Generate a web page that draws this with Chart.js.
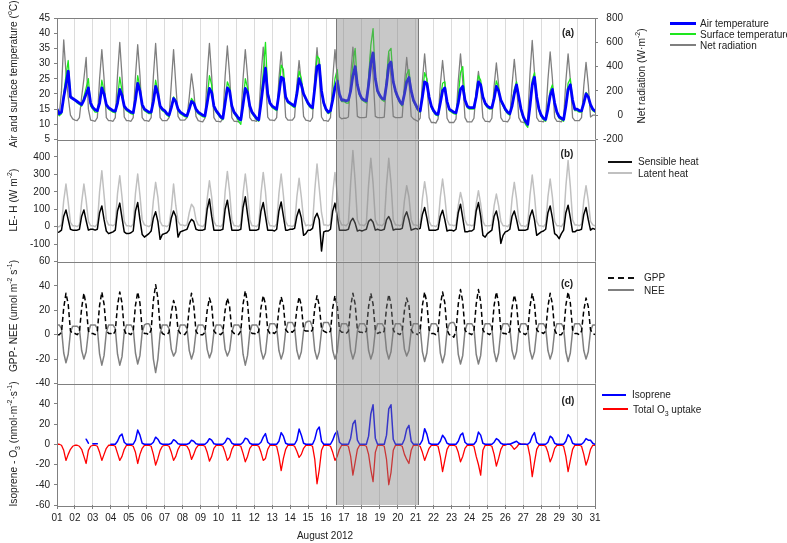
<!DOCTYPE html>
<html><head><meta charset="utf-8">
<script src="https://cdn.jsdelivr.net/npm/chart.js@4.4.1/dist/chart.umd.min.js"></script>
<style>
body{margin:0;background:#fff;}
#wrap{position:relative;width:787px;height:543px;overflow:hidden;font-family:'Liberation Sans',Arial,sans-serif;color:#222;}
canvas{position:absolute;left:0;}
.t{position:absolute;white-space:nowrap;font-size:10px;line-height:10px;transform:translateY(-50%);}
.rot{position:absolute;white-space:nowrap;font-size:10.2px;line-height:11px;transform:translate(-50%,-50%) rotate(-90deg);}
.lab{position:absolute;font-weight:bold;font-size:10px;transform:translate(-50%,-50%);}
.ln{position:absolute;}
sup,sub{font-size:7px;line-height:0;}
</style></head><body>
<div id="wrap">
<canvas id="ca"></canvas><canvas id="cb"></canvas><canvas id="cc"></canvas><canvas id="cd"></canvas>

<div class="rot" style="left:13px;top:74px">Air and surface temperature (<sup>o</sup>C)</div>
<div class="rot" style="left:641px;top:76px">Net radiation (W·m<sup>-2</sup>)</div>
<div class="rot" style="left:13px;top:200px">LE- H (W m<sup>-2</sup>)</div>
<div class="rot" style="left:13px;top:316px">GPP- NEE (umol m<sup>-2</sup> s<sup>-1</sup>)</div>
<div class="rot" style="left:13px;top:444px">Isoprene - O<sub>3</sub> (nmol·m<sup>-2</sup>·s<sup>-1</sup>)</div>

<div class="lab" style="left:568px;top:32px">(a)</div>
<div class="lab" style="left:567px;top:153px">(b)</div>
<div class="lab" style="left:567px;top:283px">(c)</div>
<div class="lab" style="left:568px;top:400px">(d)</div>

<div class="ln" style="left:670px;top:22px;width:26px;height:3px;background:#0000ff"></div>
<div class="t" style="left:700px;top:24px">Air temperature</div>
<div class="ln" style="left:670px;top:33px;width:26px;height:2px;background:#1ee61e"></div>
<div class="t" style="left:700px;top:34.5px">Surface temperature</div>
<div class="ln" style="left:670px;top:44px;width:26px;height:2px;background:#7f7f7f"></div>
<div class="t" style="left:700px;top:45.5px">Net radiation</div>

<div class="ln" style="left:608px;top:161px;width:24px;height:2px;background:#111"></div>
<div class="t" style="left:638px;top:162px">Sensible heat</div>
<div class="ln" style="left:608px;top:172px;width:24px;height:2px;background:#c0c0c0"></div>
<div class="t" style="left:638px;top:173.5px">Latent heat</div>

<div class="ln" style="left:608px;top:277px;width:26px;height:0;border-top:2px dashed #111"></div>
<div class="t" style="left:644px;top:278px">GPP</div>
<div class="ln" style="left:608px;top:289px;width:26px;height:2px;background:#808080"></div>
<div class="t" style="left:644px;top:290.5px">NEE</div>

<div class="ln" style="left:602px;top:394px;width:24px;height:2px;background:#0000ff"></div>
<div class="t" style="left:632px;top:395px">Isoprene</div>
<div class="ln" style="left:603px;top:408px;width:25px;height:2px;background:#ff0000"></div>
<div class="t" style="left:633px;top:409.5px">Total O<sub>3</sub> uptake</div>

<div class="t" style="left:325px;top:536px;transform:translate(-50%,-50%)">August 2012</div>
</div>
<script>
// ---- time grid: 8 samples per day (00,03,...,21 h), 1 Aug 00:00 to 31 Aug 00:00 ----
const samplesPerDay = 8;
const dayTicks = [1,31];                 // first and last day on the axis
const highlightDays = [16.58, 21.15];    // shaded period

// ---- panel (a) ----
const airTemp = [
15,13.5,14,19,23,27.5,19,18.5,
18,17.5,17,16.5,18,20,22,17,
15.5,14.8,14.5,17,22,20,16.5,15.5,
15,14.5,14.3,17,21.5,19.5,16,15,
14.5,14,13.8,18,23.5,21,16.5,15,
14.5,14,14,17.5,22.5,20,16,15,
14.5,13.5,13,15.5,18.5,17.5,15,14,
13.5,13,12.8,15,17.5,17,15,14,
13.5,13,12.8,17,21.8,20.5,16,14.5,
13.5,12.5,12,17,22,21,16,14,
13,12,11.5,16.5,21.8,20.5,16,14,
13,12,11.5,17,23,28.5,20,17,
16,15.5,15,20,25.5,25,19,17.5,
17,16.5,16,20,25,23,20,18.5,
17,16,15.5,22,29,29.5,21,17,
15,14,14.5,18,22,24.3,20,18,
18,17.7,18,21,26,29,23,20,
18.5,18,17.7,23,30,33.5,25,21,
19.5,18.5,18.3,23,29.5,30.5,24,21,
19,17.5,16.6,20,24,25.4,21,18,
16.5,15,14.4,19,24,23.5,19,16,
14.5,13.5,13.3,17,21,22,17.5,15,
14.5,14,13.8,17,21.5,22.5,18,16,
15.5,15.5,15.5,19,24,23,19,17,
16,15.5,15.5,18.5,22.5,21,18,16.5,
15,14,13.5,16,20,23,19,15,
12.5,11,10,16,23,25.5,19,15,
13,12,11.6,15,19.5,21.5,17,14,
12.5,12,11.6,16,21.5,23,18,15,
15,14.5,14.4,17,20,19,16.5,15,
14.4];
const surfTemp = [
14.5,12.8,13.5,20,26,31,19.5,18.5,
18,17,16.5,16,19,22,25,16,
15,14,14,18,24.5,21,16,15,
14.5,14,13.8,18.5,25.5,21,15.5,14.5,
14,13.5,13.3,19,26,22,16,14.5,
14,13.5,13.5,18.5,24.5,21,15.5,14.5,
14,13,12.5,16,19,18,14.5,13.5,
13,12.5,12.3,15.5,18.5,17.5,14.5,13.5,
13,12.5,12.3,18.5,26,23,15.5,14,
13,12,11.5,18,24,22,15.5,13.5,
12.5,11,10,17,25,22,15.5,13.5,
12.5,11.5,11,18.5,27,37,21,17,
15.5,15,14.5,21,29.5,28,19,17,
16.5,16,15.5,21,27.5,25,20,18,
16.5,15.5,15,23,32.5,31.5,21,16.5,
14.5,13.5,14,19.5,25,28,20,17.5,
17.5,17,17,22,30,35,23,19.5,
18,17.5,17,25,36,41.5,25,20.5,
19,18,17.5,25,34,35,24,20.5,
18.5,17,16,21,26.5,28,21,17.5,
16,14.5,14,20,27,25,18.5,15.5,
14,13,12.8,18,23.5,24,17,14.5,
14,13.5,13.3,19,27,29,18,15.5,
15,15,15,20,26,24.5,19,16.5,
15.5,15,15,19.5,24.3,22,17.5,16,
14.5,13.5,13,17,21.5,24,19,14.5,
12,10,9,17,24.5,27,19,14.5,
12.5,11.5,11,16,21,23,17,13.5,
12,11.5,11,17,23.5,25,18,14.5,
14.5,14,14,17.5,20.5,19.5,16,14.5,
14];
const netRad = [
20,0,200,620,350,150,0,-30,
-40,-45,-20,150,300,475,50,-40,
-45,-50,-20,300,540,300,-20,-45,
-45,-50,-20,330,600,320,-15,-45,
-45,-50,-20,320,580,330,-20,-45,
-45,-50,-20,320,590,300,-20,-45,
-45,-45,-20,260,540,250,-10,-40,
-40,-40,-20,150,340,200,-10,-45,
-50,-55,-25,330,590,320,-20,-50,
-50,-55,-25,320,570,330,-20,-50,
-50,-55,-25,300,540,320,-20,-45,
-45,-50,-20,320,560,330,-15,-40,
-40,-45,-20,300,520,300,-15,-40,
-40,-40,-15,250,450,260,-10,-40,
-45,-50,-20,320,555,330,-15,-45,
-45,-50,-20,300,540,320,-15,-30,
-25,-25,-15,320,560,320,-10,-20,
-20,-20,-15,300,530,330,-10,-20,
-20,-20,-15,290,510,300,-10,-20,
-20,-20,-15,260,475,280,-10,-30,
-40,-50,-25,280,505,280,-20,-60,
-60,-65,-30,250,450,260,-25,-60,
-60,-60,-30,280,505,280,-20,-55,
-55,-55,-25,200,360,220,-20,-50,
-50,-55,-25,240,430,250,-20,-50,
-50,-55,-25,250,460,260,-20,-55,
-60,-60,-30,340,615,350,-20,-50,
-50,-55,-25,290,520,300,-20,-50,
-50,-55,-25,280,505,290,-20,-45,
-45,-45,-20,240,435,250,-15,0,
0];

// ---- panel (b) ----
const sensibleHeat = [
-35,-30,-20,60,96,40,-15,-20,
-20,-20,-15,60,96,35,-20,-15,
-15,-20,-15,80,119,40,-25,-40,
-35,-30,-20,90,135,50,-30,-40,
-40,-35,-25,90,138,40,-45,-60,
-50,-40,-25,50,85,30,-73,-45,
-40,-35,-20,50,90,60,-60,-30,
-25,-20,-15,20,42,30,-15,-20,
-20,-20,-15,100,158,60,-20,-20,
-20,-20,-15,100,152,60,-20,-20,
-20,-20,-15,110,171,70,-20,-20,
-20,-20,-15,90,138,60,-20,-20,
-20,-25,-15,90,142,60,-20,-20,
-15,-15,-10,60,100,50,-50,-40,
-20,-20,-10,50,77,40,-140,-30,
-25,-25,-15,90,135,60,-20,-20,
-20,-20,-15,30,48,20,-25,-20,
-25,-20,-15,30,42,25,-20,-15,
-20,-20,-15,40,58,30,-20,-15,
-15,-15,-10,55,85,40,-20,-15,
-10,-15,-10,70,110,50,-20,-20,
-20,-20,-15,60,94,40,-25,-20,
-20,-25,-15,80,129,50,-30,-30,
-25,-25,-15,90,138,60,-50,-60,
-40,-30,-20,60,90,30,-96,-50,
-30,-25,-15,60,90,40,-20,-20,
-20,-20,-15,60,96,40,-50,-40,
-30,-25,-15,80,119,50,-40,-50,
-69,-40,-20,80,123,50,-30,-30,
-20,-20,-15,70,110,40,-20,-10,
-15];
const latentHeat = [
0,0,10,150,244,140,25,5,
5,0,10,140,244,150,30,5,
5,0,15,200,321,180,40,10,
10,5,15,190,292,170,30,5,
5,0,15,190,302,180,40,10,
5,0,10,150,254,170,30,5,
5,0,10,100,244,120,30,10,
10,5,10,80,129,110,40,10,
5,0,15,160,263,170,30,5,
5,0,15,200,317,200,40,5,
5,0,15,190,302,190,40,5,
5,0,15,190,311,200,40,5,
5,0,15,190,302,180,30,5,
5,0,10,170,277,170,40,5,
10,5,15,210,360,220,80,10,
10,5,15,190,311,190,40,10,
10,5,20,250,437,260,40,10,
10,5,20,240,392,250,40,10,
10,5,20,240,392,250,40,10,
10,5,15,150,235,170,40,10,
10,5,15,160,258,170,30,5,
5,0,15,170,273,170,40,10,
10,5,10,120,196,140,40,10,
10,5,10,130,206,130,30,5,
5,5,10,120,187,120,30,5,
5,0,15,160,254,160,30,5,
5,0,15,180,296,180,30,5,
5,0,15,170,273,170,30,5,
5,0,20,230,379,230,40,10,
10,5,15,150,235,150,30,10,
5];

// ---- panel (c) ----
const gpp = [
0,0,2,22,34,25,3,1,
1,0,2,22,34,24,3,1,
1,0,3,24,35,25,4,1,
1,0,3,24,35,26,4,0,
1,0,3,24,35,26,4,1,
1,0,4,28,41,30,6,1,
0,0,2,18,28,22,4,1,
1,0,3,22,34,24,3,0,
0,0,2,20,30,24,3,1,
1,0,2,20,30,23,3,1,
1,0,3,25,36,26,4,1,
1,0,3,22,32,25,4,1,
2,1,3,21,31,24,4,2,
3,2,4,21,31,24,4,3,
3,2,4,22,32,24,5,3,
2,1,3,22,32,24,4,2,
2,1,3,23,34,25,4,2,
2,1,3,23,34,25,4,1,
2,1,3,22,33,25,4,1,
1,0,3,20,30,24,4,1,
1,0,3,24,35,26,4,1,
1,0,3,24,35,26,4,0,
0,-2,3,25,37,27,4,1,
1,0,3,25,37,27,4,1,
1,0,3,24,35,26,4,1,
1,0,3,22,32.5,25,4,1,
1,0,3,23,34,25,4,2,
2,1,3,23,34,25,4,0,
0,0,3,24,35,26,4,1,
1,0,3,20,30,23,4,1,
0];
const nee = [
8,8,5,-15,-23,-16,2,7,
7,7,5,-13,-20,-14,2,8,
8,8,5,-16,-25,-17,2,8,
8,8,5,-16,-25,-18,2,8,
8,8,5,-15,-24,-17,2,8,
9,9,5,-20,-31,-20,1,8,
8,8,5,-12,-17.5,-14,2,8,
8,8,5,-13,-20,-14,2,8,
8,8,5,-12,-19,-14,2,8,
8,8,5,-12,-17.5,-13,2,8,
8,8,5,-16,-25,-17,2,8,
8,8,5,-13,-20,-15,2,9,
9,9,6,-13,-20,-14,3,10,
10,10,6,-13,-20,-14,3,10,
11,11,6,-13,-20,-14,3,10,
10,10,6,-13,-20,-14,3,9,
9,9,6,-13,-20,-14,3,9,
9,9,6,-13,-20,-14,3,9,
9,9,6,-13,-20,-14,3,9,
9,9,6,-12,-17.5,-13,3,9,
9,9,6,-14,-22,-15,3,9,
9,9,6,-15,-23,-16,3,9,
10,10,6,-16,-24,-17,3,9,
9,9,6,-16,-24,-17,3,9,
9,9,6,-14,-22,-15,3,9,
9,9,6,-13,-20,-14,3,9,
9,9,6,-13,-20,-14,3,9,
9,9,6,-13,-20,-14,3,9,
9,9,6,-14,-22,-15,3,9,
9,9,6,-13,-20,-14,3,8,
8];

// ---- panel (d) ----
const isoprene = [
null,null,null,null,null,null,null,null,
null,null,null,null,null,5,1,null,
0.5,0.5,0.5,null,null,null,null,null,
0,0,0,3,8,10,2,0,
0,0,0,4,14,9,1,0,
0,0,0,2,7,5,1,0,
0,0,0,1,4.5,3,0.5,0,
0,0,0,1,4,3,0.5,0,
0,0,0,2,5.5,4,0.5,0,
0,0,0,2,6,5,1,0,
0,0,0,2,6,5,1,0,
0,0,0,2,7,10.5,2,0,
0,0,0,3,11.5,8,1,0,
0,0,0,4,15,9,1,0,
0,0,0,5,14,17,3,0,
0,0,0,4,10,13,2,0,
0,0,0,6,20,23.6,4,0,
0,0,0,8,30,39,6,0,
0,0,0,9,35,39,5,0,
0,0,0,5,15,18.7,3,0,
0,0,0,4,15.4,10,1,0,
0,0,0,3,8.9,6,1,0,
0,0,0,3,9,11,2,0,
0,0,0,3,12,9,1,0,
0,0,0,2,5.6,4,1,0,
0,0,0,1,2,3,1,0,
0,0,0,2,8,11.5,2,0,
0,0,0,2,8,6,1,0,
0,0,0,3,9.5,7,1,0,
0,0,0,2,5.6,4,4,1,
0];
const o3Uptake = [
0,0,-1,-6,-16,-10,-5,-2,
-1,-1,-2,-5,-12,-19,-6,-2,
-1,-1,-2,-8,-16,-10,-4,-1,
-1,-1,-2,-9,-16,-12,-5,-1,
-1,-1,-2,-8,-19,-10,-4,-1,
-1,-1,-2,-10,-20.6,-14,-6,-2,
-1,-1,-2,-8,-16,-12,-5,-1,
-1,-1,-2,-6,-15,-10,-4,-1,
-1,-1,-2,-8,-16.7,-12,-4,-1,
-1,-1,-2,-8,-16,-13,-5,-1,
-1,-1,-2,-9,-17.4,-12,-4,-1,
-1,-1,-2,-8,-16,-14,-5,-1,
-1,-1,-2,-12,-26,-14,-5,-1,
-1,-1,-2,-7,-13,-10,-4,-1,
-1,-1,-2,-15,-39,-25,-6,-1,
-1,-1,-2,-8,-16,-12,-5,-1,
-1,-1,-2,-12,-30.5,-18,-5,-1,
-1,-1,-2,-10,-25,-37,-8,-1,
-1,-1,-2,-15,-40,-28,-6,-1,
-1,-1,-2,-10,-15,-19,-6,-1,
-1,-1,-2,-8,-16,-10,-4,-1,
-1,-1,-2,-12,-27,-16,-5,-1,
-1,-1,-2,-8,-17.4,-12,-4,-1,
-1,-1,-2,-12,-20,-30.5,-6,-1,
-1,-1,-2,-10,-21.6,-14,-5,-1,
-1,0,0,-2,-5,-3,0,0,
0,0,-1,-12,-32,-18,-5,-1,
-1,-1,-2,-8,-17.4,-12,-4,-1,
-1,-1,-2,-12,-27,-16,-5,-1,
-1,-1,-2,-10,-20.6,-14,-5,-1,
-1];

// ---------------- rendering ----------------
const PLOT_LEFT = 57, PLOT_RIGHT = 595, W = 787;
const FONT = "'Liberation Sans', Arial, sans-serif";
const AX = '#808080';

function pts(arr){ return arr.map((v,i)=>({x: dayTicks[0] + i/samplesPerDay, y: v})); }

const framePlugin = {
  id:'frame',
  afterDatasetsDraw(chart){
    const {ctx, chartArea:a, scales:{x}} = chart;
    const x0 = x.getPixelForValue(highlightDays[0]), x1 = x.getPixelForValue(highlightDays[1]);
    ctx.save();
    ctx.fillStyle = 'rgba(128,128,128,0.43)';
    ctx.fillRect(x0, a.top, x1-x0, a.bottom-a.top);
    ctx.strokeStyle = '#7a7a7a'; ctx.lineWidth = 1;
    ctx.beginPath();
    ctx.moveTo(Math.round(x0)+0.5, a.top); ctx.lineTo(Math.round(x0)+0.5, a.bottom);
    ctx.moveTo(Math.round(x1)+0.5, a.top); ctx.lineTo(Math.round(x1)+0.5, a.bottom);
    ctx.stroke();
    ctx.strokeStyle = AX;
    ctx.strokeRect(Math.round(a.left)+0.5, Math.round(a.top)+0.5, Math.round(a.right-a.left), Math.round(a.bottom-a.top));
    ctx.restore();
  }
};

function panel(id, top, bottom, datasets, yOpts, opts){
  const isBottom = !!opts.bottom;
  const canvasTop = Math.floor(top) - 12;
  const padTop = top - canvasTop;
  const xAxisH = isBottom ? 24 : 0;
  const padBottom = isBottom ? 14 : 12;
  const height = Math.ceil(bottom + xAxisH + padBottom - canvasTop);
  const cv = document.getElementById(id);
  cv.width = W; cv.height = height;
  cv.style.top = canvasTop + 'px';
  const realPadBottom = height - (bottom - canvasTop) - xAxisH;
  const scales = {
    x:{type:'linear', min:dayTicks[0], max:dayTicks[1],
       ticks:{stepSize:1, display:isBottom, autoSkip:false, maxRotation:0, padding:3,
              font:{family:FONT,size:10}, color:'#222',
              callback:v=>Number.isInteger(v)?String(v).padStart(2,'0'):''},
       grid:{color:'#dcdcdc', lineWidth:1, drawTicks:isBottom, tickLength:4, tickColor:AX},
       border:{display:false},
       afterFit:s=>{s.height = xAxisH;}},
    y:Object.assign({position:'left',
       grid:{drawOnChartArea:false, drawTicks:true, tickLength:3, color:AX},
       border:{display:true, color:AX},
       afterFit:s=>{s.width = PLOT_LEFT;}}, yOpts.left)
  };
  scales.y.ticks = Object.assign({padding:4, font:{family:FONT,size:10}, color:'#222'}, yOpts.left.ticks);
  let padRight = W - PLOT_RIGHT;
  if (yOpts.right){
    const rw = 28;
    padRight = W - PLOT_RIGHT - rw;
    scales.yR = Object.assign({position:'right',
       grid:{drawOnChartArea:false, drawTicks:true, tickLength:3, color:AX},
       border:{display:true, color:AX},
       afterFit:s=>{s.width = rw;}}, yOpts.right);
    scales.yR.ticks = Object.assign({padding:6, crossAlign:'far', font:{family:FONT,size:10}, color:'#222'}, yOpts.right.ticks);
  }
  new Chart(cv, {
    type:'line',
    data:{datasets},
    options:{
      responsive:false, animation:false, devicePixelRatio:1,
      layout:{padding:{left:0, right:padRight, top:padTop, bottom:realPadBottom}},
      plugins:{legend:{display:false}, tooltip:{enabled:false}},
      elements:{point:{radius:0}, line:{tension:0, borderJoinStyle:'round', borderCapStyle:'round'}},
      spanGaps:false,
      scales
    },
    plugins:[framePlugin]
  });
}

function ds(arr, color, width, extra){
  return Object.assign({data:pts(arr), borderColor:color, borderWidth:width, fill:false, pointRadius:0}, extra||{});
}

panel('ca', 18, 139.5, [
  ds(airTemp, '#0000ff', 2.8),
  ds(surfTemp, '#1ee61e', 1.3),
  ds(netRad, '#7f7f7f', 1.3, {yAxisID:'yR'})
], {
  left:{min:5, max:45, ticks:{stepSize:5}},
  right:{min:-200, max:800, ticks:{stepSize:200}}
}, {});

panel('cb', 139.5, 261.5, [
  ds(sensibleHeat, '#000000', 1.5),
  ds(latentHeat, '#c0c0c0', 1.5)
], {
  left:{min:-200, max:500, ticks:{stepSize:100, callback:v=>(v===-200||v===500)?'':v}}
}, {});

panel('cc', 261.5, 383.5, [
  ds(gpp, '#000000', 1.5, {borderDash:[5,3], borderCapStyle:'butt'}),
  ds(nee, '#808080', 1.5)
], {
  left:{min:-40, max:60, ticks:{stepSize:20}}
}, {});

panel('cd', 383.5, 505, [
  ds(isoprene, '#0000ff', 1.5),
  ds(o3Uptake, '#ff0000', 1.3)
], {
  left:{min:-60, max:60, ticks:{stepSize:20, callback:v=>(v===60)?'':v}}
}, {bottom:true});
</script>
</body></html>
